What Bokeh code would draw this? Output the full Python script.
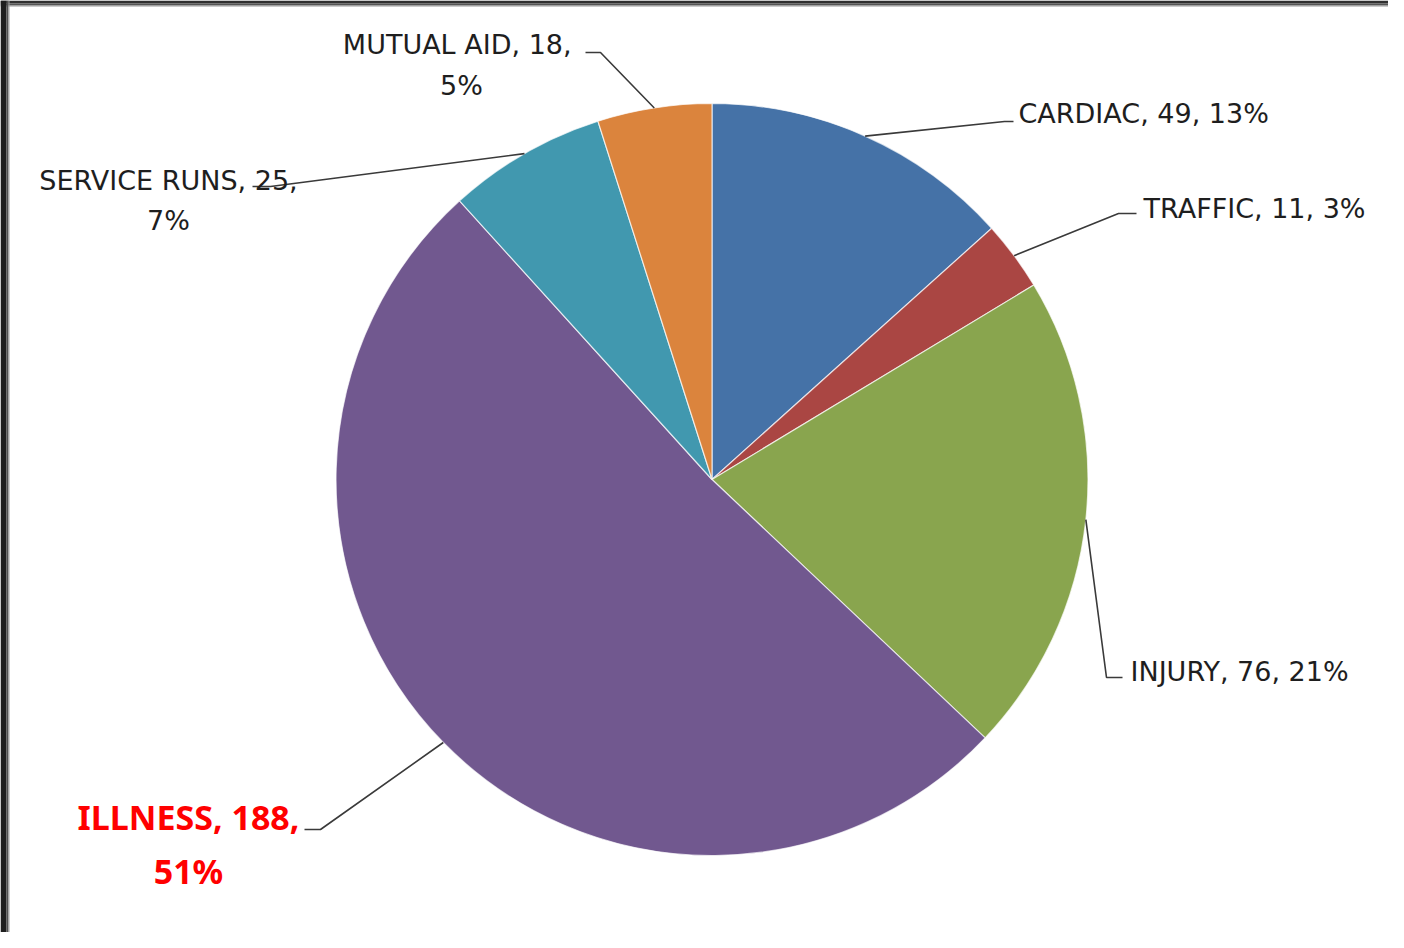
import numpy as np
from bokeh.plotting import figure
from bokeh.models import Range1d, ColumnDataSource
from bokeh.core.properties import value
from bokeh.embed import file_html
from bokeh.resources import INLINE

# ---------------- data ----------------
categories = ["CARDIAC", "TRAFFIC", "INJURY", "ILLNESS", "SERVICE RUNS", "MUTUAL AID"]
counts = [49, 11, 76, 188, 25, 18]
colors = ["#4572A7", "#AA4643", "#89A54E", "#71588F", "#4198AF", "#DB843D"]

# ---------------- layout (page pixel coordinates) ----------------
W, H = 1388, 932
CX, CY, R = 711.5, 479.0, 376.0
# leader elbow / end points per slice
elbow = [(1004, 121), (1118, 213), (1106, 677), (320, 829), (270, 186), (600, 52)]
lead_end = [(1013, 121), (1136, 213), (1122, 677), (304, 829), (252, 186), (585, 52)]
# label anchors: (x, baseline1, baseline2 or None, align)
lab = [(1018, 113, None, "left"),
       (1143, 208, None, "left"),
       (1130, 671, None, "left"),
       (188, 816, 870, "center"),
       (168, 180, 220, "center"),
       (461, 44, 85, "center")]

p = figure(width=W, height=H, x_range=Range1d(0, W), y_range=Range1d(-H, 0),
           output_backend="svg", toolbar_location=None, min_border=0,
           x_axis_type=None, y_axis_type=None)
p.outline_line_color = None
p.background_fill_color = "white"
p.border_fill_color = "white"

# screenshot frame (dark edges top/left)
p.quad(left=[0, 0, 0], right=[W, W, W], top=[0, -3, -5], bottom=[-3, -5, -6],
       fill_color=["#303030", "#555555", "#9a9a9a"], line_color=None)
p.quad(left=[0, 6, 8], right=[6, 8, 9], top=[0, 0, 0], bottom=[-H, -H, -H],
       fill_color=["#1e1e1e", "#505050", "#a0a0a0"], line_color=None)

vals = np.array(counts, dtype=float)
total = vals.sum()
frac = vals / total
cum = np.cumsum(frac)
start = np.pi / 2 - 2 * np.pi * (cum - frac)
end = np.pi / 2 - 2 * np.pi * cum
mid = np.pi / 2 - 2 * np.pi * (cum - frac / 2)

src = ColumnDataSource(dict(start=start, end=end, color=colors))
p.wedge(x=CX, y=-CY, radius=R, start_angle="start", end_angle="end", direction="clock",
        fill_color="color", line_color="white", line_width=1.2, line_alpha=0.7, source=src)

# leader lines
xs, ys = [], []
for i in range(len(counts)):
    px = CX + R * np.cos(mid[i])
    py = -CY + R * np.sin(mid[i])
    xs.append([px, elbow[i][0], lead_end[i][0]])
    ys.append([py, -elbow[i][1], -lead_end[i][1]])
p.multi_line(xs=xs, ys=ys, line_color="#3a3a3a", line_width=1.6)

# labels
for i, cat in enumerate(categories):
    pct = int(round(100 * counts[i] / total))
    x, b1, b2, align = lab[i]
    bold = (cat == "ILLNESS")
    font = "Noto Sans" if bold else "DejaVu Sans"
    size = "34px" if bold else "27px"
    col = "#ff0000" if bold else "#1e1e1e"
    style = "bold" if bold else "normal"
    name = "MUTUAL  AID" if cat == "MUTUAL AID" else cat
    if b2 is None:
        lines = [(f"{name}, {counts[i]}, {pct}%", b1)]
    else:
        lines = [(f"{name}, {counts[i]},", b1), (f"{pct}%", b2)]
    for t, b in lines:
        p.text(x=[x], y=[-b], text=[t], text_align=align, text_baseline="alphabetic",
               text_font=value(font), text_font_size=size, text_color=col,
               text_font_style=style)

open("out.html", "w").write(file_html(p, INLINE))
